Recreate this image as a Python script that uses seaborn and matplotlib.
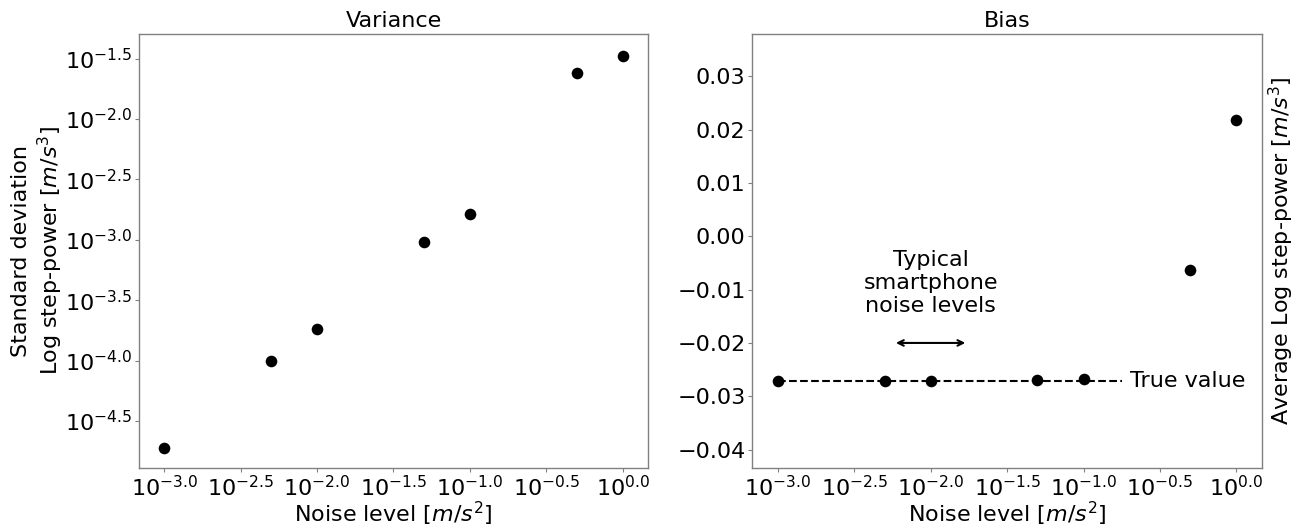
import numpy as np
import pandas as pd
import matplotlib
matplotlib.use("Agg")
import matplotlib.pyplot as plt
from matplotlib.ticker import FuncFormatter, NullLocator
import seaborn as sns

# noise levels [m/s^2]
noise_levels = [0.001, 0.005, 0.01, 0.05, 0.1, 0.5, 1.0]
# log10 of std deviation of log step-power
std_log10 = [-4.72, -4.00, -3.74, -3.02, -2.79, -1.62, -1.48]
# average log step-power
avg_log_power = [-0.02718, -0.02718, -0.02718, -0.0270, -0.0267, -0.0064, 0.0218]
true_value = -0.02718

tick_exponents = [-3.0, -2.5, -2.0, -1.5, -1.0, -0.5, 0.0]
ytick_exponents_left = [-4.5, -4.0, -3.5, -3.0, -2.5, -2.0, -1.5]
yticks_right = [-0.04, -0.03, -0.02, -0.01, 0.00, 0.01, 0.02, 0.03]

df = pd.DataFrame({
    "noise": noise_levels,
    "std": [10 ** v for v in std_log10],
    "bias": avg_log_power,
})

sns.set_style("white")
plt.rcParams["font.family"] = ["DejaVu Sans"]
plt.rcParams["text.color"] = "black"
plt.rcParams["axes.labelcolor"] = "black"
FS = 16

fig, (ax1, ax2) = plt.subplots(1, 2, figsize=(12.98, 5.29), dpi=100)
fig.subplots_adjust(left=0.107, right=0.972, bottom=0.116, top=0.936, wspace=0.205)

pow_fmt = FuncFormatter(lambda v, pos: r"$10^{%.1f}$" % np.log10(v))


def style_axes(ax):
    for sp in ax.spines.values():
        sp.set_color("0.5")
        sp.set_linewidth(1.0)
    ax.tick_params(axis="both", which="major", length=3, color="0.5",
                   labelcolor="black", labelsize=FS, direction="out",
                   left=True, bottom=True, pad=2)


# Variance panel
sns.scatterplot(data=df, x="noise", y="std", ax=ax1, color="black",
                s=70, edgecolor="black", linewidth=0)
ax1.set_xscale("log")
ax1.set_yscale("log")
ax1.set_xticks([10 ** e for e in tick_exponents])
ax1.set_yticks([10 ** e for e in ytick_exponents_left])
ax1.xaxis.set_major_formatter(pow_fmt)
ax1.yaxis.set_major_formatter(pow_fmt)
ax1.xaxis.set_minor_locator(NullLocator())
ax1.yaxis.set_minor_locator(NullLocator())
ax1.set_xlim(10 ** -3.165, 10 ** 0.165)
ax1.set_ylim(10 ** -4.886, 10 ** -1.295)
ax1.set_title("Variance", fontsize=FS, color="black", pad=5)
ax1.set_xlabel("Noise level [$m/s^2$]", fontsize=FS, labelpad=0)
ax1.set_ylabel("Standard deviation\nLog step-power [$m/s^3$]", fontsize=FS, labelpad=0)
style_axes(ax1)

# Bias panel
ax2.hlines(true_value, noise_levels[0], 0.178, colors="black",
           linestyles="--", linewidth=1.5, zorder=1)
sns.scatterplot(data=df, x="noise", y="bias", ax=ax2, color="black",
                s=70, edgecolor="black", linewidth=0, zorder=3)
ax2.set_xscale("log")
ax2.set_xticks([10 ** e for e in tick_exponents])
ax2.xaxis.set_major_formatter(pow_fmt)
ax2.xaxis.set_minor_locator(NullLocator())
ax2.set_xlim(10 ** -3.165, 10 ** 0.165)
ax2.set_yticks(yticks_right)
ax2.yaxis.set_major_formatter(FuncFormatter(lambda v, pos: ("%.2f" % v).replace("-", "\u2212")))
ax2.set_ylim(-0.0434, 0.038)
ax2.text(0.2, true_value, "True value", fontsize=FS, ha="left", va="center")
ax2.annotate("", xy=(10 ** -2.227, -0.02), xytext=(10 ** -1.773, -0.02),
             arrowprops=dict(arrowstyle="<->", color="black", lw=1.5,
                             shrinkA=0, shrinkB=0))
ax2.text(0.01, -0.0088, "Typical\nsmartphone\nnoise levels", fontsize=FS,
         ha="center", va="center", linespacing=1.2)
ax2.set_title("Bias", fontsize=FS, color="black", pad=5)
ax2.set_xlabel("Noise level [$m/s^2$]", fontsize=FS, labelpad=0)
ax2.set_ylabel("Average Log step-power [$m/s^3$]", fontsize=FS)
ax2.yaxis.set_label_position("right")
style_axes(ax2)

fig.savefig("out.png", dpi=100)
